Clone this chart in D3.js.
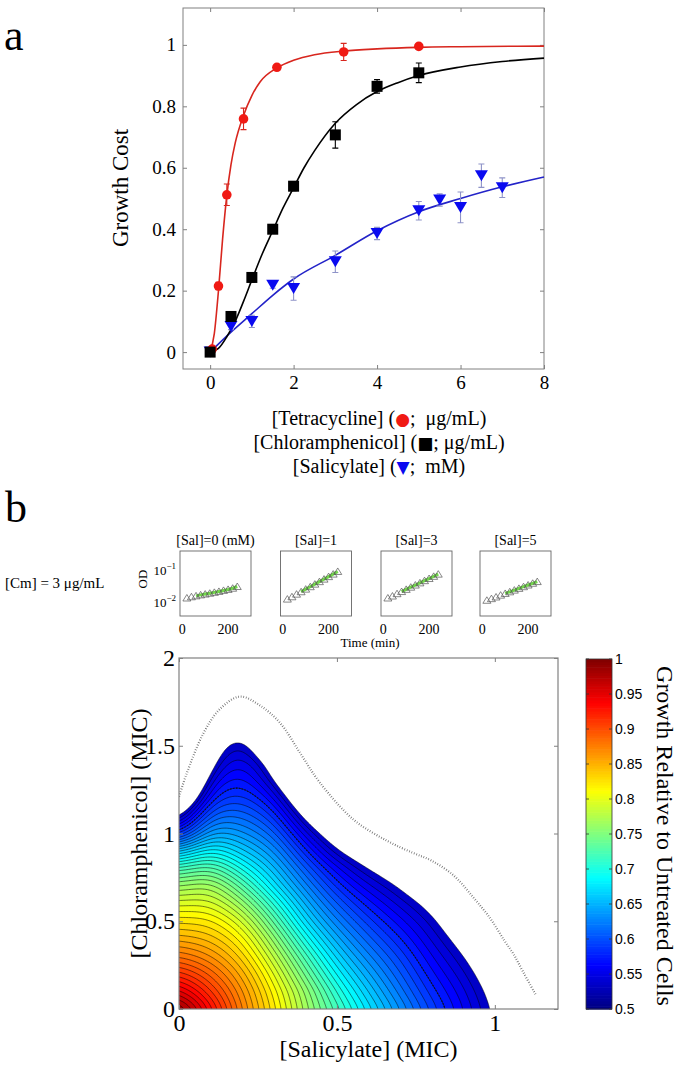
<!DOCTYPE html>
<html><head><meta charset="utf-8">
<script src="https://cdn.jsdelivr.net/npm/d3@7"></script>
<style>body{margin:0;background:#fff}svg{display:block}</style>
</head><body><svg id="c" width="685" height="1069"></svg>
<script>
// ================= DATA =================
// Panel a: measured growth cost
const tetX = [0.05, 0.2, 0.4, 0.8, 1.6, 3.2, 5];
const tetY = [0.01, 0.215, 0.512, 0.759, 0.927, 0.977, 0.995];
const tetErr = [0.005, 0.012, 0.035, 0.035, 0.006, 0.028, 0.005];
const cmX = [0, 0.5, 1, 1.5, 2, 3, 4, 5];
const cmY = [0, 0.116, 0.243, 0.4, 0.54, 0.707, 0.865, 0.909];
const cmErr = [0.005, 0.01, 0.015, 0.008, 0.015, 0.043, 0.022, 0.032];
const salX = [0, 0.5, 1, 1.5, 2, 3, 4, 5, 5.5, 6, 6.5, 7];
const salY = [0, 0.083, 0.10, 0.218, 0.207, 0.294, 0.386, 0.46, 0.495, 0.471, 0.574, 0.535];
const salErr = [0.01, 0.01, 0.02, 0.01, 0.038, 0.035, 0.02, 0.03, 0.02, 0.05, 0.038, 0.032];
// Panel a: fitted curves
const tetFitX = [0, 0.1, 0.2, 0.3, 0.4, 0.5, 0.6, 0.8, 1.0, 1.2, 1.6, 2.0, 2.5, 3.2, 4, 5, 6, 8];
const tetFitY = [0, 0.06, 0.2, 0.37, 0.51, 0.61, 0.68, 0.77, 0.835, 0.88, 0.925, 0.95, 0.968, 0.98, 0.987, 0.992, 0.994, 0.996];
const cmFitX = [0, 0.2, 0.4, 0.6, 0.8, 1, 1.25, 1.5, 1.75, 2, 2.25, 2.5, 3, 3.5, 4, 4.5, 5, 6, 7, 8];
const cmFitY = [0, 0.012, 0.05, 0.1, 0.165, 0.235, 0.32, 0.395, 0.47, 0.535, 0.6, 0.655, 0.745, 0.805, 0.848, 0.877, 0.9, 0.928, 0.946, 0.957];
const salFitX = [0, 0.5, 1, 1.5, 2, 3, 4, 5, 6, 7, 8];
const salFitY = [0, 0.065, 0.125, 0.185, 0.238, 0.315, 0.395, 0.457, 0.5, 0.538, 0.57];
const xTicksA = [0, 2, 4, 6, 8];
const yTicksA = [0, 0.2, 0.4, 0.6, 0.8, 1];

// Panel b: growth curves at [Cm] = 3 ug/mL
const salTitles = ["[Sal]=0 (mM)", "[Sal]=1", "[Sal]=3", "[Sal]=5"];
const odTimes = [20, 40, 60, 80, 100, 120, 140, 160, 180, 200, 220, 240];
const odSal0 = [0.0130, 0.0142, 0.0152, 0.0163, 0.0173, 0.0184, 0.0196, 0.0210, 0.0226, 0.0243, 0.0265, 0.0300];
const odSal1 = [0.0120, 0.0142, 0.0172, 0.0205, 0.0248, 0.0296, 0.0357, 0.0428, 0.0515, 0.0618, 0.0742, 0.0900];
const odSal3 = [0.0130, 0.0150, 0.0178, 0.0208, 0.0244, 0.0286, 0.0334, 0.0392, 0.0460, 0.0538, 0.0630, 0.0740];
const odSal5 = [0.0110, 0.0124, 0.0140, 0.0160, 0.0181, 0.0204, 0.0231, 0.0262, 0.0296, 0.0335, 0.0380, 0.0430];
const fitStart = [2, 3, 3, 4];
const timeTicks = [0, 200];

// Panel b: growth relative to untreated; one column per salicylate = 0,0.1..1.2 MIC,
// each column lists chloramphenicol = 0,0.1..2.0 MIC (values read from colours/contours)
const gridStep = 0.1;
const growthCols = [
  [1.0, 0.958, 0.918, 0.88, 0.847, 0.817, 0.786, 0.75, 0.703, 0.635, 0.55, 0.487, 0.43, 0.38, 0.335, 0.295, 0.26, 0.23, 0.2, 0.18, 0.16],
  [0.935, 0.912, 0.888, 0.862, 0.838, 0.815, 0.789, 0.762, 0.722, 0.674, 0.628, 0.59, 0.556, 0.53, 0.505, 0.482, 0.455, 0.425, 0.395, 0.365, 0.335],
  [0.87, 0.862, 0.847, 0.828, 0.808, 0.783, 0.751, 0.715, 0.678, 0.643, 0.614, 0.59, 0.568, 0.55, 0.535, 0.52, 0.495, 0.465, 0.435, 0.405, 0.375],
  [0.815, 0.806, 0.791, 0.77, 0.746, 0.718, 0.688, 0.657, 0.634, 0.611, 0.587, 0.562, 0.535, 0.507, 0.485, 0.448, 0.417, 0.385, 0.353, 0.32, 0.29],
  [0.755, 0.748, 0.727, 0.704, 0.677, 0.65, 0.627, 0.604, 0.58, 0.553, 0.523, 0.49, 0.456, 0.421, 0.386, 0.35, 0.315, 0.28, 0.25, 0.22, 0.19],
  [0.705, 0.688, 0.667, 0.645, 0.623, 0.601, 0.579, 0.556, 0.532, 0.501, 0.472, 0.44, 0.408, 0.376, 0.344, 0.312, 0.282, 0.252, 0.224, 0.2, 0.175],
  [0.655, 0.639, 0.621, 0.602, 0.583, 0.564, 0.544, 0.522, 0.498, 0.472, 0.444, 0.414, 0.383, 0.352, 0.32, 0.29, 0.26, 0.23, 0.205, 0.18, 0.16],
  [0.61, 0.595, 0.581, 0.567, 0.551, 0.534, 0.516, 0.497, 0.476, 0.453, 0.428, 0.4, 0.37, 0.34, 0.31, 0.28, 0.25, 0.225, 0.2, 0.175, 0.155],
  [0.566, 0.554, 0.542, 0.53, 0.518, 0.506, 0.49, 0.468, 0.445, 0.421, 0.395, 0.368, 0.34, 0.312, 0.284, 0.257, 0.232, 0.208, 0.185, 0.163, 0.143],
  [0.53, 0.523, 0.513, 0.501, 0.487, 0.471, 0.453, 0.433, 0.411, 0.387, 0.361, 0.334, 0.306, 0.278, 0.25, 0.224, 0.2, 0.178, 0.158, 0.14, 0.124],
  [0.495, 0.488, 0.478, 0.466, 0.452, 0.436, 0.418, 0.398, 0.376, 0.352, 0.327, 0.3, 0.273, 0.246, 0.22, 0.196, 0.174, 0.154, 0.136, 0.12, 0.106],
  [0.46, 0.453, 0.443, 0.431, 0.417, 0.401, 0.383, 0.363, 0.341, 0.318, 0.294, 0.268, 0.242, 0.217, 0.193, 0.171, 0.151, 0.133, 0.117, 0.103, 0.09],
  [0.425, 0.418, 0.408, 0.396, 0.382, 0.366, 0.348, 0.328, 0.306, 0.283, 0.259, 0.234, 0.21, 0.187, 0.166, 0.147, 0.13, 0.114, 0.1, 0.088, 0.077]
];
const contourLevels = d3.range(50).map(k => +(0.5 + k * 0.01).toFixed(2));
const dashedLevel = 0.55;
// dotted boundary curve
const dotX = [0, 0.024, 0.077, 0.13, 0.193, 0.256, 0.32, 0.383, 0.446, 0.552, 0.657, 0.74, 0.8, 0.87, 0.93, 0.984, 1.03, 1.06, 1.09, 1.13];
const dotY = [1.21, 1.34, 1.57, 1.71, 1.78, 1.73, 1.63, 1.46, 1.29, 1.08, 0.96, 0.89, 0.845, 0.76, 0.64, 0.52, 0.39, 0.31, 0.21, 0.08];
const xTicksB = [0, 0.5, 1];
const yTicksB = [0, 0.5, 1, 1.5, 2];
const cbTicks = [0.5, 0.55, 0.6, 0.65, 0.7, 0.75, 0.8, 0.85, 0.9, 0.95, 1];

// ================= DRAWING =================
const serif = '"Liberation Serif","Times New Roman",serif';
const sans = '"Liberation Sans",Arial,sans-serif';
const svg = d3.select("#c");
svg.append("rect").attr("width", 685).attr("height", 1069).attr("fill", "#fff");

function styleAxis(g, size, fam) {
  g.select(".domain").remove();
  g.selectAll(".tick line").attr("stroke", "#808080");
  g.selectAll("text").attr("font-family", fam || serif).attr("font-size", size).attr("fill", "#000");
}

// ---------- Panel a ----------
const A = {l: 183, r: 544, t: 8, b: 369};
const xA = d3.scaleLinear([-0.65, 8], [A.l, A.r]);
const yA = d3.scaleLinear([-0.055, 1.12], [A.b, A.t]);
const gA = svg.append("g");
gA.append("g").attr("transform", `translate(0,${A.b})`)
  .call(d3.axisBottom(xA).tickValues(xTicksA).tickSize(-4).tickPadding(7).tickFormat(d => d))
  .call(g => styleAxis(g, 19));
gA.append("g").attr("transform", `translate(0,${A.t})`)
  .call(d3.axisTop(xA).tickValues(xTicksA).tickSize(-4).tickFormat(""))
  .call(g => styleAxis(g, 19));
gA.append("g").attr("transform", `translate(${A.l},0)`)
  .call(d3.axisLeft(yA).tickValues(yTicksA).tickSize(-4).tickPadding(7).tickFormat(d => d))
  .call(g => styleAxis(g, 19));
gA.append("g").attr("transform", `translate(${A.r},0)`)
  .call(d3.axisRight(yA).tickValues(yTicksA).tickSize(-4).tickFormat(""))
  .call(g => styleAxis(g, 19));
gA.append("rect").attr("x", A.l).attr("y", A.t).attr("width", A.r - A.l).attr("height", A.b - A.t)
  .attr("fill", "none").attr("stroke", "#808080");

const lineA = d3.line().x(d => xA(d[0])).y(d => yA(d[1])).curve(d3.curveMonotoneX);
function drawFit(xs, ys, col) {
  gA.append("path").attr("d", lineA(xs.map((x, i) => [x, ys[i]])))
    .attr("fill", "none").attr("stroke", col).attr("stroke-width", 1.6);
}
function drawErr(xs, ys, es, col) {
  xs.forEach((x, i) => {
    const cx = xA(x), y0 = yA(ys[i] - es[i]), y1 = yA(ys[i] + es[i]);
    gA.append("path").attr("d", `M${cx},${y0}V${y1}M${cx - 3},${y0}H${cx + 3}M${cx - 3},${y1}H${cx + 3}`)
      .attr("stroke", col).attr("stroke-width", 1.1).attr("fill", "none");
  });
}
drawFit(salFitX, salFitY, "#2323c8");
drawFit(cmFitX, cmFitY, "#000");
drawFit(tetFitX, tetFitY, "#d8261e");
drawErr(salX, salY, salErr, "#8e93c8");
salX.forEach((x, i) => {
  const cx = xA(x), cy = yA(salY[i]);
  gA.append("path").attr("d", `M${cx - 6.5},${cy - 5.5}L${cx + 6.5},${cy - 5.5}L${cx},${cy + 5.5}Z`).attr("fill", "#0a0af0");
});
drawErr(tetX, tetY, tetErr, "#d8261e");
tetX.forEach((x, i) => {
  gA.append("circle").attr("cx", xA(x)).attr("cy", yA(tetY[i])).attr("r", 4.8).attr("fill", "#f01a14");
});
drawErr(cmX, cmY, cmErr, "#000");
cmX.forEach((x, i) => {
  gA.append("rect").attr("x", xA(x) - 5.5).attr("y", yA(cmY[i]) - 5.5).attr("width", 11).attr("height", 11).attr("fill", "#000");
});
svg.append("text").attr("transform", "translate(128,188) rotate(-90)").attr("text-anchor", "middle")
  .attr("font-family", serif).attr("font-size", 23).text("Growth Cost");
svg.append("text").attr("x", 4).attr("y", 50).attr("font-family", serif).attr("font-size", 44).text("a");
const legendRows = [
  {pre: "[Tetracycline] (", sym: "\u25CF", col: "#f01a14", post: ";  \u03BCg/mL)", y: 425},
  {pre: "[Chloramphenicol] (", sym: "\u25A0", col: "#000", post: "; \u03BCg/mL)", y: 449},
  {pre: "[Salicylate] (", sym: "\u25BC", col: "#0a0af0", post: ";  mM)", y: 473}
];
legendRows.forEach(r => {
  const t = svg.append("text").attr("x", 379).attr("y", r.y).attr("text-anchor", "middle")
    .attr("font-family", serif).attr("font-size", 20).style("white-space", "pre");
  t.append("tspan").text(r.pre);
  t.append("tspan").attr("fill", r.col).attr("font-family", '"DejaVu Sans",sans-serif').attr("font-size", 17).text(r.sym);
  t.append("tspan").text(r.post);
});

// ---------- Panel b: small growth plots ----------
svg.append("text").attr("x", 5).attr("y", 522).attr("font-family", serif).attr("font-size", 44).text("b");
svg.append("text").attr("x", 5).attr("y", 588).attr("font-family", serif).attr("font-size", 15).text("[Cm] = 3 \u03BCg/mL");
const odSets = [odSal0, odSal1, odSal3, odSal5];
const boxL = [180, 280.5, 381, 480];
const boxW = 71, boxT = 551, boxB = 616;
const yOD = d3.scaleLog([0.0035, 0.4], [boxB, boxT]);
odSets.forEach((ods, k) => {
  const xT = d3.scaleLinear([-10, 300], [boxL[k], boxL[k] + boxW]);
  const g = svg.append("g");
  g.append("rect").attr("x", boxL[k]).attr("y", boxT).attr("width", boxW).attr("height", boxB - boxT)
    .attr("fill", "none").attr("stroke", "#666").attr("stroke-width", 0.9);
  g.append("text").attr("x", boxL[k] + boxW / 2).attr("y", 545).attr("text-anchor", "middle")
    .attr("font-family", serif).attr("font-size", 14).text(salTitles[k]);
  timeTicks.forEach(t => {
    g.append("text").attr("x", xT(t)).attr("y", 634).attr("text-anchor", "middle")
      .attr("font-family", serif).attr("font-size", 14).text(t);
  });
  const pts = odTimes.map((t, i) => [xT(t), yOD(ods[i])]);
  g.append("path").attr("d", d3.line()(pts.slice(fitStart[k])))
    .attr("fill", "none").attr("stroke", "#72d84a").attr("stroke-width", 3);
  pts.forEach(p => {
    g.append("path").attr("d", `M${p[0] - 4},${p[1] + 3}L${p[0] + 4},${p[1] + 3}L${p[0]},${p[1] - 3.5}Z`)
      .attr("fill", "none").attr("stroke", "#555").attr("stroke-width", 0.7);
  });
});
[0.1, 0.01].forEach((v, i) => {
  const t = svg.append("text").attr("x", 176).attr("y", yOD(v) + 5).attr("text-anchor", "end")
    .attr("font-family", serif).attr("font-size", 13);
  t.append("tspan").text("10");
  t.append("tspan").attr("font-size", 9).attr("dy", -6).text(i === 0 ? "\u22121" : "\u22122");
});
svg.append("text").attr("transform", "translate(147,579) rotate(-90)").attr("text-anchor", "middle")
  .attr("font-family", serif).attr("font-size", 13).text("OD");
svg.append("text").attr("x", 370).attr("y", 647).attr("text-anchor", "middle")
  .attr("font-family", serif).attr("font-size", 13).text("Time (min)");

// ---------- Panel b: contour map ----------
const B = {l: 179, r: 558, t: 658, b: 1009};
const xB = d3.scaleLinear([0, 1.2], [B.l, B.r]);
const yB = d3.scaleLinear([0, 2], [B.b, B.t]);
function jet(t) {
  const c = v => Math.max(0, Math.min(1, v));
  return d3.rgb(255 * c(1.5 - Math.abs(4 * t - 3)), 255 * c(1.5 - Math.abs(4 * t - 2)), 255 * c(1.5 - Math.abs(4 * t - 1))).toString();
}
const colorOf = v => jet(0.07 + 0.93 * (v - 0.5) / 0.5);
// rendering: bilinear resampling of the read grid + light smoothing
const nI = growthCols.length, nJ = growthCols[0].length;
const gv = (a, b) => growthCols[a][b];
function bilinear(x, y) {
  const gx = Math.max(0, Math.min(nI - 1, x / gridStep)), gy = Math.max(0, Math.min(nJ - 1, y / gridStep));
  const i = Math.min(nI - 2, Math.floor(gx)), j = Math.min(nJ - 2, Math.floor(gy));
  const tx = gx - i, ty = gy - j;
  return (1 - tx) * (1 - ty) * gv(i, j) + tx * (1 - ty) * gv(i + 1, j) + (1 - tx) * ty * gv(i, j + 1) + tx * ty * gv(i + 1, j + 1);
}
const fs = 0.005, gx0 = -0.1, gy0 = -0.1;
const nx = Math.round(1.4 / fs) + 1, ny = Math.round(2.2 / fs) + 1;
let fine = new Float64Array(nx * ny);
for (let j = 0; j < ny; j++) for (let i = 0; i < nx; i++) fine[j * nx + i] = bilinear(gx0 + i * fs, gy0 + j * fs);
function blurPass(src, w, h, r, horiz) {
  const out = new Float64Array(src.length);
  const n = horiz ? w : h, m = horiz ? h : w;
  for (let a = 0; a < m; a++) {
    const idx = k => horiz ? a * w + Math.max(0, Math.min(w - 1, k)) : Math.max(0, Math.min(h - 1, k)) * w + a;
    let s = 0;
    for (let k = -r; k <= r; k++) s += src[idx(k)];
    for (let k = 0; k < n; k++) {
      out[horiz ? a * w + k : k * w + a] = s / (2 * r + 1);
      s += src[idx(k + r + 1)] - src[idx(k - r)];
    }
  }
  return out;
}
for (let p = 0; p < 3; p++) { fine = blurPass(fine, nx, ny, 7, true); fine = blurPass(fine, nx, ny, 5, false); }
const proj = d3.geoTransform({point(px, py) { this.stream.point(xB(gx0 + (px - 0.5) * fs), yB(gy0 + (py - 0.5) * fs)); }});
const pathB = d3.geoPath(proj);
const defs = svg.append("defs");
defs.append("clipPath").attr("id", "clipB").append("rect")
  .attr("x", B.l).attr("y", B.t).attr("width", B.r - B.l).attr("height", B.b - B.t);
const gB = svg.append("g").attr("clip-path", "url(#clipB)");
const conts = d3.contours().size([nx, ny]).thresholds(contourLevels)(fine);
gB.selectAll("path.fill").data(conts).join("path").attr("class", "fill")
  .attr("d", pathB).attr("fill", d => colorOf(d.value)).attr("stroke", "none");
gB.selectAll("path.line").data(conts).join("path").attr("class", "line")
  .attr("d", pathB).attr("fill", "none").attr("stroke", "#000").attr("stroke-opacity", 0.85).attr("stroke-width", 0.6);
const dashC = d3.contours().size([nx, ny]).thresholds([dashedLevel])(fine);
gB.selectAll("path.dash").data(dashC).join("path").attr("class", "dash")
  .attr("d", pathB).attr("fill", "none").attr("stroke", "#111").attr("stroke-width", 1.1).attr("stroke-dasharray", "1.5,1.5");
gB.append("path").attr("d", d3.line().x(d => xB(d[0])).y(d => yB(d[1])).curve(d3.curveCatmullRom)(dotX.map((x, i) => [x, dotY[i]])))
  .attr("fill", "none").attr("stroke", "#666").attr("stroke-width", 2.2).attr("stroke-dasharray", "0.7,1.9");
svg.append("g").attr("transform", `translate(0,${B.b})`)
  .call(d3.axisBottom(xB).tickValues(xTicksB).tickSize(-4).tickPadding(5).tickFormat(d => d))
  .call(g => styleAxis(g, 24));
svg.append("g").attr("transform", `translate(0,${B.t})`)
  .call(d3.axisTop(xB).tickValues(xTicksB).tickSize(-4).tickFormat(""))
  .call(g => styleAxis(g, 24));
svg.append("g").attr("transform", `translate(${B.l},0)`)
  .call(d3.axisLeft(yB).tickValues(yTicksB).tickSize(-4).tickPadding(4).tickFormat(d => d))
  .call(g => styleAxis(g, 24));
svg.append("g").attr("transform", `translate(${B.r},0)`)
  .call(d3.axisRight(yB).tickValues(yTicksB).tickSize(-4).tickFormat(""))
  .call(g => styleAxis(g, 24));
svg.append("rect").attr("x", B.l).attr("y", B.t).attr("width", B.r - B.l).attr("height", B.b - B.t)
  .attr("fill", "none").attr("stroke", "#808080").attr("stroke-width", 1.2);
svg.append("text").attr("x", (B.l + B.r) / 2).attr("y", 1057).attr("text-anchor", "middle")
  .attr("font-family", serif).attr("font-size", 24).text("[Salicylate] (MIC)");
svg.append("text").attr("transform", `translate(147,${(B.t + B.b) / 2}) rotate(-90)`).attr("text-anchor", "middle")
  .attr("font-family", serif).attr("font-size", 24).text("[Chloramphenicol] (MIC)");

// ---------- colorbar ----------
const CB = {l: 586, r: 612};
const yCB = d3.scaleLinear([0.5, 1], [1009, 659]);
const cbSteps = d3.range(0, 128);
svg.append("g").selectAll("rect").data(cbSteps).join("rect")
  .attr("x", CB.l).attr("width", CB.r - CB.l)
  .attr("y", i => yCB(0.5 + (i + 1) / 256)).attr("height", i => yCB(0.5 + i / 256) - yCB(0.5 + (i + 1) / 256) + 0.6)
  .attr("fill", i => jet((i + 0.5) / 128));
svg.append("rect").attr("x", CB.l).attr("y", 659).attr("width", CB.r - CB.l).attr("height", 350)
  .attr("fill", "none").attr("stroke", "#333").attr("stroke-width", 0.8);
const gCB = svg.append("g");
cbTicks.forEach(v => {
  const y = yCB(v);
  gCB.append("path").attr("d", `M${CB.r},${y}h-3M${CB.l},${y}h3`).attr("stroke", "#333").attr("stroke-width", 0.8);
  gCB.append("text").attr("x", CB.r + 3).attr("y", y).attr("dy", "0.35em")
    .attr("font-family", sans).attr("font-size", 14).text(v);
});
svg.append("text").attr("transform", "translate(657,836) rotate(90)").attr("text-anchor", "middle")
  .attr("font-family", serif).attr("font-size", 24).text("Growth Relative to Untreated Cells");
</script></body></html>
